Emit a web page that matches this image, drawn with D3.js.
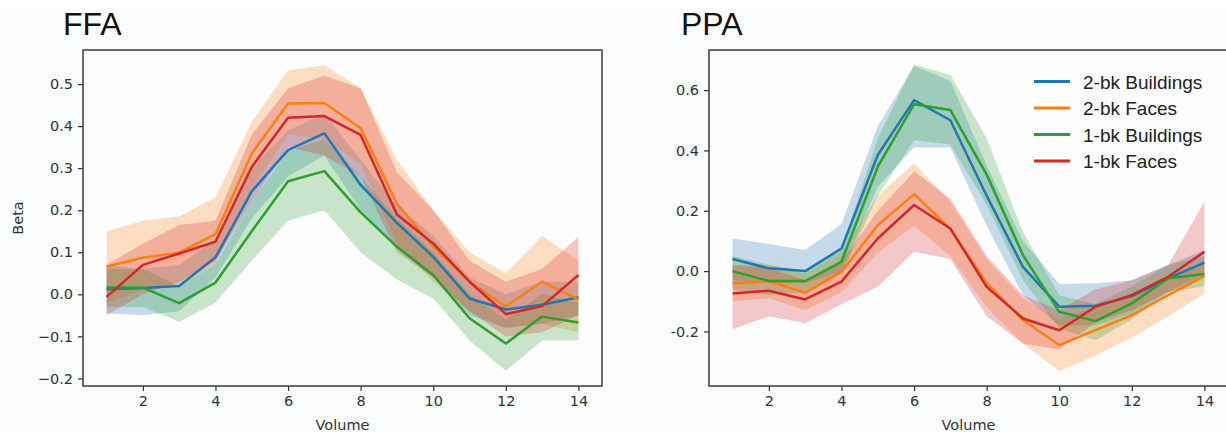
<!DOCTYPE html>
<html>
<head>
<meta charset="utf-8">
<script src="https://cdn.jsdelivr.net/npm/d3@7"></script>
<style>
  body { margin: 0; background: #fff; }
  .tick text { font-family: "DejaVu Sans", sans-serif; font-size: 14.5px; fill: #333; }
</style>
</head>
<body>
<div class="chart"></div>
<script>
// volumes on the x axis
const volumes = [1, 2, 3, 4, 5, 6, 7, 8, 9, 10, 11, 12, 13, 14];

const seriesNames = ["2-bk Buildings", "2-bk Faces", "1-bk Buildings", "1-bk Faces"];
const seriesColors = ["#1f77b4", "#ff7f0e", "#2ca02c", "#d62728"];

// FFA means and bands (lower / upper)
const ffaBuild2 = [0.012, 0.015, 0.02, 0.088, 0.245, 0.343, 0.383, 0.26, 0.17, 0.089, -0.01, -0.036, -0.025, -0.007];
const ffaBuild2Lo = [-0.045, -0.05, -0.04, 0.04, 0.18, 0.28, 0.33, 0.2, 0.11, 0.04, -0.05, -0.08, -0.07, -0.05];
const ffaBuild2Hi = [0.07, 0.06, 0.07, 0.13, 0.3, 0.39, 0.43, 0.32, 0.21, 0.14, 0.04, 0.0, 0.03, 0.03];

const ffaFace2 = [0.066, 0.087, 0.099, 0.143, 0.335, 0.454, 0.455, 0.395, 0.215, 0.113, 0.03, -0.029, 0.03, -0.012];
const ffaFace2Lo = [-0.02, 0.01, 0.02, 0.07, 0.25, 0.38, 0.37, 0.31, 0.12, 0.03, -0.04, -0.08, -0.07, -0.09];
const ffaFace2Hi = [0.15, 0.175, 0.185, 0.23, 0.41, 0.533, 0.545, 0.49, 0.32, 0.2, 0.1, 0.05, 0.139, 0.08];

const ffaBuild1 = [0.016, 0.016, -0.021, 0.028, 0.15, 0.269, 0.293, 0.195, 0.113, 0.046, -0.057, -0.117, -0.053, -0.067];
const ffaBuild1Lo = [-0.03, -0.03, -0.065, -0.02, 0.08, 0.175, 0.2, 0.1, 0.035, -0.01, -0.11, -0.182, -0.11, -0.11];
const ffaBuild1Hi = [0.06, 0.06, 0.02, 0.07, 0.22, 0.34, 0.37, 0.28, 0.18, 0.1, 0.0, -0.06, 0.0, -0.02];

const ffaFace1 = [-0.006, 0.07, 0.097, 0.125, 0.303, 0.42, 0.424, 0.379, 0.19, 0.121, 0.03, -0.047, -0.028, 0.046];
const ffaFace1Lo = [-0.05, 0.0, 0.03, 0.08, 0.22, 0.35, 0.33, 0.28, 0.1, 0.04, -0.04, -0.1, -0.09, -0.05];
const ffaFace1Hi = [0.07, 0.12, 0.165, 0.175, 0.38, 0.49, 0.52, 0.49, 0.29, 0.2, 0.08, 0.03, 0.06, 0.137];

// PPA means and bands
const ppaBuild2 = [0.04, 0.009, 0.0, 0.075, 0.385, 0.567, 0.5, 0.25, 0.014, -0.118, -0.115, -0.083, -0.024, 0.028];
const ppaBuild2Lo = [-0.03, -0.04, -0.04, 0.0, 0.28, 0.41, 0.41, 0.15, -0.08, -0.18, -0.18, -0.14, -0.07, -0.01];
const ppaBuild2Hi = [0.108, 0.09, 0.07, 0.156, 0.48, 0.68, 0.63, 0.35, 0.1, -0.043, -0.04, -0.03, 0.02, 0.07];

const ppaFace2 = [-0.041, -0.033, -0.072, -0.002, 0.152, 0.255, 0.14, -0.04, -0.162, -0.245, -0.196, -0.146, -0.08, -0.017];
const ppaFace2Lo = [-0.1, -0.09, -0.13, -0.07, 0.06, 0.15, 0.05, -0.12, -0.24, -0.331, -0.28, -0.22, -0.15, -0.074];
const ppaFace2Hi = [0.02, 0.02, -0.01, 0.06, 0.25, 0.357, 0.23, 0.04, -0.09, -0.16, -0.12, -0.08, -0.02, 0.03];

const ppaBuild1 = [0.0, -0.033, -0.033, 0.031, 0.346, 0.553, 0.534, 0.32, 0.053, -0.135, -0.166, -0.107, -0.024, -0.01];
const ppaBuild1Lo = [-0.06, -0.08, -0.07, -0.01, 0.25, 0.434, 0.42, 0.22, -0.03, -0.19, -0.229, -0.16, -0.07, -0.05];
const ppaBuild1Hi = [0.05, 0.02, 0.0, 0.07, 0.44, 0.685, 0.65, 0.44, 0.13, -0.08, -0.11, -0.05, 0.02, 0.05];

const ppaFace1 = [-0.074, -0.065, -0.094, -0.035, 0.108, 0.219, 0.141, -0.052, -0.157, -0.196, -0.118, -0.08, -0.019, 0.064];
const ppaFace1Lo = [-0.193, -0.15, -0.173, -0.11, -0.052, 0.064, 0.04, -0.15, -0.24, -0.26, -0.17, -0.13, -0.07, -0.02];
const ppaFace1Hi = [0.02, 0.01, -0.03, 0.03, 0.2, 0.33, 0.24, 0.05, -0.08, -0.13, -0.06, -0.03, 0.02, 0.23];

// tick labels
const xTicks = [2, 4, 6, 8, 10, 12, 14];
const ffaYTicks = [-0.2, -0.1, 0.0, 0.1, 0.2, 0.3, 0.4, 0.5];
const ffaYLabels = ["\u22120.2", "\u22120.1", "0.0", "0.1", "0.2", "0.3", "0.4", "0.5"];
const ppaYTicks = [-0.2, 0.0, 0.2, 0.4, 0.6];
const ppaYLabels = ["-0.2", "0.0", "0.2", "0.4", "0.6"];

const w = 1226;
const h = 436;

const svg = d3.select(".chart").append("svg").attr("width", w).attr("height", h);

// slightly tinted figure background
svg.append("rect").attr("x", 0).attr("y", 0).attr("width", w).attr("height", h).attr("fill", "#ffffff");
svg.append("rect").attr("x", 0).attr("y", 10).attr("width", w).attr("height", h - 14).attr("fill", "#fbfcfd");

const drawPanel = (opts) => {
  const x = d3.scaleLinear().domain([0.35, 14.65]).range([opts.left, opts.right]);
  const y = d3.scaleLinear().domain(opts.yDomain).range([opts.bottom, opts.top]);

  const g = svg.append("g");

  g.append("rect")
    .attr("x", opts.left).attr("y", opts.top)
    .attr("width", opts.right - opts.left).attr("height", opts.bottom - opts.top)
    .attr("fill", "#fdfdfe");

  const area = d3.area()
    .x((d, i) => x(volumes[i]))
    .y0((d) => y(d[0]))
    .y1((d) => y(d[1]));

  const line = d3.line()
    .x((d, i) => x(volumes[i]))
    .y((d) => y(d));

  opts.series.forEach((s, k) => {
    const band = s.lo.map((v, i) => [v, s.hi[i]]);
    g.append("path")
      .attr("d", area(band))
      .attr("fill", seriesColors[k])
      .attr("fill-opacity", 0.25);
  });
  opts.series.forEach((s, k) => {
    g.append("path")
      .attr("d", line(s.mean))
      .attr("fill", "none")
      .attr("stroke", seriesColors[k])
      .attr("stroke-width", 2.5)
      .attr("stroke-linejoin", "round");
  });

  // axes
  const xAxis = g.append("g")
    .attr("transform", `translate(0,${opts.bottom})`)
    .call(d3.axisBottom(x).tickValues(xTicks).tickSize(5).tickPadding(5).tickSizeOuter(0));
  xAxis.select(".domain").remove();
  xAxis.selectAll(".tick line").attr("stroke", "#333").attr("stroke-width", 1.2);

  const yAxis = g.append("g")
    .attr("transform", `translate(${opts.left},0)`)
    .call(d3.axisLeft(y).tickValues(opts.yTicks)
      .tickFormat((d, i) => opts.yLabels[i]).tickSize(5).tickPadding(5).tickSizeOuter(0));
  yAxis.select(".domain").remove();
  yAxis.selectAll(".tick line").attr("stroke", "#333").attr("stroke-width", 1.2);

  // frame
  g.append("rect")
    .attr("x", opts.left).attr("y", opts.top)
    .attr("width", opts.right - opts.left).attr("height", opts.bottom - opts.top)
    .attr("fill", "none")
    .attr("stroke", "#3a3a3a")
    .attr("stroke-width", 1.5);

  // titles and labels
  svg.append("text")
    .attr("x", opts.titleX).attr("y", 35)
    .attr("font-family", "Liberation Sans, Arial, sans-serif")
    .attr("font-size", 32)
    .attr("fill", "#111")
    .text(opts.title);

  svg.append("text")
    .attr("x", (opts.left + opts.right) / 2).attr("y", 430)
    .attr("text-anchor", "middle")
    .attr("font-family", "DejaVu Sans, sans-serif")
    .attr("font-size", 14.5)
    .attr("fill", "#333")
    .text("Volume");

  return { x, y };
};

drawPanel({
  title: "FFA",
  titleX: 63,
  left: 83, right: 602, top: 50, bottom: 386,
  yDomain: [-0.218, 0.581],
  yTicks: ffaYTicks,
  yLabels: ffaYLabels,
  series: [
    { mean: ffaBuild2, lo: ffaBuild2Lo, hi: ffaBuild2Hi },
    { mean: ffaFace2, lo: ffaFace2Lo, hi: ffaFace2Hi },
    { mean: ffaBuild1, lo: ffaBuild1Lo, hi: ffaBuild1Hi },
    { mean: ffaFace1, lo: ffaFace1Lo, hi: ffaFace1Hi },
  ],
});

svg.append("text")
  .attr("transform", "translate(23,218) rotate(-90)")
  .attr("text-anchor", "middle")
  .attr("font-family", "DejaVu Sans, sans-serif")
  .attr("font-size", 14.5)
  .attr("fill", "#333")
  .text("Beta");

drawPanel({
  title: "PPA",
  titleX: 681,
  left: 709, right: 1228, top: 50, bottom: 386,
  yDomain: [-0.381, 0.733],
  yTicks: ppaYTicks,
  yLabels: ppaYLabels,
  series: [
    { mean: ppaBuild2, lo: ppaBuild2Lo, hi: ppaBuild2Hi },
    { mean: ppaFace2, lo: ppaFace2Lo, hi: ppaFace2Hi },
    { mean: ppaBuild1, lo: ppaBuild1Lo, hi: ppaBuild1Hi },
    { mean: ppaFace1, lo: ppaFace1Lo, hi: ppaFace1Hi },
  ],
});

// legend in PPA panel
const legend = svg.append("g").attr("transform", "translate(1034,81.5)");
seriesNames.forEach((name, i) => {
  const row = legend.append("g").attr("transform", `translate(0,${i * 26.5})`);
  row.append("line")
    .attr("x1", 0).attr("x2", 36).attr("y1", 0).attr("y2", 0)
    .attr("stroke", seriesColors[i]).attr("stroke-width", 3);
  row.append("text")
    .attr("x", 49).attr("y", 7)
    .attr("font-family", "Liberation Sans, Arial, sans-serif")
    .attr("font-size", 19)
    .attr("fill", "#222")
    .text(name);
});
</script>
</body>
</html>
